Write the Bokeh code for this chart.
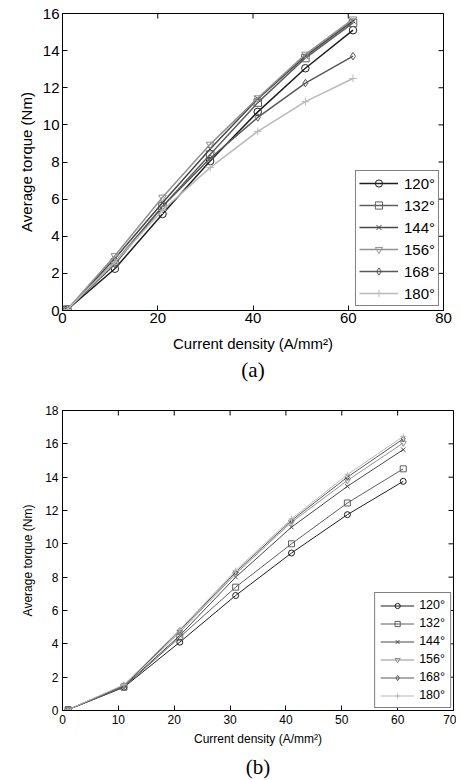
import math
from bokeh.plotting import figure
from bokeh.models import Range1d, FixedTicker, Title
from bokeh.layouts import column
from bokeh.embed import file_html
from bokeh.resources import INLINE

# ---------------- data ----------------
current_density = [1, 11, 21, 31, 41, 51, 61]
angle_labels = ["120°", "132°", "144°", "156°", "168°", "180°"]

# (a)
a_120 = [0.05, 2.25, 5.2, 8.05, 10.7, 13.05, 15.1]
a_132 = [0.05, 2.6, 5.6, 8.4, 11.2, 13.6, 15.5]
a_144 = [0.05, 2.8, 5.8, 8.7, 11.4, 13.7, 15.6]
a_156 = [0.05, 2.95, 6.1, 8.95, 11.45, 13.8, 15.7]
a_168 = [0.05, 2.5, 5.6, 8.2, 10.4, 12.25, 13.7]
a_180 = [0.05, 2.6, 5.4, 7.7, 9.65, 11.25, 12.5]

# (b)
b_120 = [0.05, 1.4, 4.1, 6.9, 9.45, 11.75, 13.75]
b_132 = [0.05, 1.4, 4.4, 7.4, 10.0, 12.45, 14.5]
b_144 = [0.05, 1.45, 4.5, 8.0, 11.0, 13.45, 15.65]
b_156 = [0.05, 1.5, 4.7, 8.2, 11.3, 13.8, 16.05]
b_168 = [0.05, 1.5, 4.8, 8.3, 11.4, 14.0, 16.3]
b_180 = [0.05, 1.55, 4.85, 8.4, 11.5, 14.15, 16.45]

a_ticks_x = [0, 20, 40, 60, 80]
a_ticks_y = [0, 2, 4, 6, 8, 10, 12, 14, 16]
b_ticks_x = [0, 10, 20, 30, 40, 50, 60, 70]
b_ticks_y = [0, 2, 4, 6, 8, 10, 12, 14, 16, 18]

markers = ["circle", "square", "x", "inverted_triangle", "diamond", "cross"]
colors = ["#1e1e1e", "#5f5f5f", "#474747", "#919191", "#585858", "#b9b9b9"]

SANS = "Liberation Sans"
SERIF = "Liberation Serif"


def make_panel(series, xr, yr, tx, ty, caption, fw, fh, borders, fs, lw, msize,
               leg):
    bl, br, bt, bb = borders
    p = figure(frame_width=fw, frame_height=fh,
               x_range=Range1d(*xr), y_range=Range1d(*yr),
               output_backend="svg", toolbar_location=None,
               min_border_left=bl, min_border_right=br,
               min_border_top=bt, min_border_bottom=bb,
               background_fill_color="white", border_fill_color="white")
    p.xgrid.visible = False
    p.ygrid.visible = False
    p.outline_line_color = "black"
    p.outline_line_width = 1

    for ys, lab, mk, col in zip(series, angle_labels, markers, colors):
        p.line(current_density, ys, line_color=col, line_width=lw, legend_label=lab)
        p.scatter(current_density, ys, marker=mk, size=msize, line_color=col,
                  fill_alpha=0, line_width=1, legend_label=lab)

    # mirrored inward ticks on top and right edges (clipped to the frame)
    p.scatter(tx, [yr[1]] * len(tx), marker="dash", angle=math.pi / 2, size=10,
              line_color="black", line_width=1)
    p.scatter([xr[1]] * len(ty), ty, marker="dash", size=10,
              line_color="black", line_width=1)

    for ax, ticks in ((p.xaxis[0], tx), (p.yaxis[0], ty)):
        ax.ticker = FixedTicker(ticks=ticks)
        ax.major_tick_in = 5
        ax.major_tick_out = 0
        ax.minor_tick_line_color = None
        ax.axis_line_color = "black"
        ax.major_tick_line_color = "black"
        ax.major_label_text_font = SANS
        ax.major_label_text_font_size = f"{fs}px"
        ax.major_label_text_color = "black"
        ax.axis_label_text_font = SANS
        ax.axis_label_text_font_size = f"{fs}px"
        ax.axis_label_text_font_style = "normal"
        ax.axis_label_text_color = "black"

    p.xaxis[0].axis_label = "Current density (A/mm²)"
    p.yaxis[0].axis_label = "Average torque (Nm)"
    p.xaxis[0].major_label_standoff = leg["xstand"]
    p.yaxis[0].major_label_standoff = leg["ystand"]
    p.xaxis[0].axis_label_standoff = leg["xlstand"]
    p.yaxis[0].axis_label_standoff = leg["ylstand"]

    t = Title(text=caption, align="center", text_font=SERIF,
              text_font_size=f"{leg['capfs']}px", text_font_style="normal",
              text_color="black", standoff=leg["capstand"])
    p.add_layout(t, "below")

    L = p.legend[0]
    L.location = "bottom_right"
    L.margin = leg["margin"]
    L.padding = leg["padding"]
    L.spacing = leg["spacing"]
    L.glyph_width = leg["gw"]
    L.glyph_height = leg["gh"]
    L.label_height = leg["gh"]
    L.label_standoff = leg["lstand"]
    L.label_text_font = SANS
    L.label_text_font_size = f"{leg['fs']}px"
    L.label_text_color = "black"
    L.border_line_color = "black"
    L.border_line_width = 1
    L.background_fill_color = "white"
    L.background_fill_alpha = 1
    return p


pa = make_panel([a_120, a_132, a_144, a_156, a_168, a_180], (0, 80), (0, 16),
                a_ticks_x, a_ticks_y, "(a)", 381, 297, (62, 10, 13, 90), 15, 1.5, 7.5,
                dict(xstand=2, ystand=3, xlstand=9, ylstand=5, capfs=21, capstand=2,
                     margin=4, padding=3, spacing=4, gw=39, gh=18, lstand=6, fs=15))

pb = make_panel([b_120, b_132, b_144, b_156, b_168, b_180], (0, 70), (0, 18),
                b_ticks_x, b_ticks_y, "(b)", 391, 300, (57, 8, 10, 62), 12, 1.0, 6,
                dict(xstand=4, ystand=4, xlstand=5, ylstand=7, capfs=21, capstand=8,
                     margin=2, padding=5, spacing=4, gw=34, gh=13, lstand=5, fs=12.5))

layout = column(pa, pb, spacing=0)
open("out.html", "w").write(file_html(layout, INLINE))
